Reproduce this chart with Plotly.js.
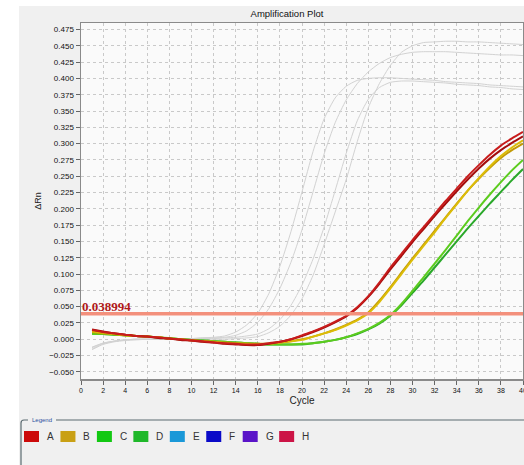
<!DOCTYPE html>
<html>
<head>
<meta charset="utf-8">
<script src="https://cdn.plot.ly/plotly-3.0.1.min.js"></script>
<style>html,body{margin:0;padding:0;background:#fff;}#chart{width:524px;height:465px;}</style>
</head>
<body>
<div id="chart"></div>
<script>
var cycles = [1,2,3,4,5,6,7,8,9,10,11,12,13,14,15,16,17,18,19,20,21,22,23,24,25,26,27,28,29,30,31,32,33,34,35,36,37,38,39,40];

// background (unselected) wells, grey
var grayA = [-0.016,-0.008,-0.004,-0.002,-0.001,0.000,0.000,0.000,0.001,0.001,0.002,0.003,0.005,0.011,0.022,0.040,0.070,0.112,0.165,0.226,0.288,0.338,0.370,0.388,0.397,0.400,0.401,0.401,0.400,0.399,0.398,0.397,0.395,0.394,0.393,0.392,0.390,0.389,0.388,0.387];
var grayB = [-0.012,-0.006,-0.003,-0.001,0.000,0.000,0.000,0.001,0.001,0.001,0.002,0.002,0.003,0.006,0.013,0.026,0.047,0.078,0.118,0.168,0.226,0.284,0.332,0.367,0.392,0.410,0.423,0.432,0.437,0.440,0.441,0.441,0.441,0.440,0.439,0.438,0.437,0.436,0.436,0.435];
var grayC = [-0.015,-0.007,-0.003,-0.001,0.000,0.000,0.000,0.000,0.000,0.000,0.000,0.000,0.000,0.001,0.002,0.004,0.010,0.020,0.037,0.062,0.098,0.145,0.195,0.245,0.303,0.355,0.392,0.420,0.440,0.450,0.455,0.456,0.457,0.457,0.456,0.456,0.455,0.454,0.453,0.452];
var grayD = [-0.013,-0.006,-0.003,-0.001,0.000,0.000,0.000,0.000,0.000,0.001,0.001,0.001,0.002,0.003,0.005,0.008,0.016,0.030,0.052,0.083,0.123,0.172,0.228,0.285,0.335,0.368,0.386,0.394,0.396,0.396,0.395,0.394,0.393,0.391,0.390,0.389,0.387,0.386,0.384,0.383];

// selected wells
var redA1 = [0.014,0.011,0.009,0.007,0.005,0.004,0.003,0.001,0.000,-0.002,-0.003,-0.005,-0.006,-0.007,-0.008,-0.008,-0.006,-0.004,0.000,0.006,0.012,0.019,0.027,0.036,0.049,0.066,0.087,0.110,0.131,0.152,0.172,0.192,0.212,0.231,0.250,0.267,0.283,0.297,0.308,0.318];
var redA2 = [0.015,0.012,0.009,0.007,0.005,0.004,0.002,0.001,-0.001,-0.002,-0.004,-0.005,-0.007,-0.008,-0.009,-0.009,-0.007,-0.004,0.000,0.005,0.011,0.018,0.026,0.035,0.048,0.065,0.085,0.107,0.128,0.149,0.169,0.189,0.208,0.227,0.245,0.262,0.277,0.290,0.301,0.311];
var yellowB1 = [0.012,0.010,0.008,0.006,0.005,0.004,0.003,0.001,0.000,-0.002,-0.003,-0.004,-0.006,-0.007,-0.007,-0.008,-0.007,-0.005,-0.003,-0.001,0.004,0.009,0.014,0.021,0.029,0.040,0.057,0.078,0.100,0.122,0.143,0.164,0.186,0.207,0.228,0.247,0.265,0.281,0.294,0.305];
var yellowB2 = [0.011,0.009,0.008,0.006,0.005,0.004,0.003,0.001,0.000,-0.001,-0.003,-0.004,-0.005,-0.006,-0.007,-0.007,-0.007,-0.005,-0.003,0.000,0.004,0.009,0.015,0.022,0.030,0.041,0.059,0.080,0.102,0.124,0.145,0.166,0.187,0.208,0.228,0.246,0.263,0.278,0.290,0.300];
var greenC = [0.008,0.008,0.007,0.006,0.005,0.004,0.003,0.002,0.000,-0.001,-0.002,-0.003,-0.004,-0.005,-0.006,-0.007,-0.008,-0.008,-0.008,-0.007,-0.006,-0.004,-0.001,0.003,0.009,0.016,0.025,0.037,0.054,0.074,0.095,0.116,0.137,0.159,0.181,0.202,0.222,0.241,0.259,0.275];
var greenD = [0.009,0.008,0.007,0.006,0.005,0.004,0.003,0.001,0.000,-0.001,-0.002,-0.003,-0.004,-0.005,-0.006,-0.007,-0.008,-0.008,-0.008,-0.008,-0.006,-0.004,-0.001,0.003,0.008,0.015,0.024,0.036,0.052,0.071,0.090,0.110,0.130,0.150,0.170,0.189,0.208,0.226,0.244,0.261];

var threshold = 0.038994;
var thresholdLabel = "0.038994";

var legendLabels = ["A","B","C","D","E","F","G","H"];
var legendColors = ["#cc0a0a","#c9a014","#12c812","#1fb82a","#1a98d8","#0a0ac8","#5a14c8","#cc1446"];

var xTickVals = [0,2,4,6,8,10,12,14,16,18,20,22,24,26,28,30,32,34,36,38,40];
var yTickVals = [-0.050,-0.025,0.000,0.025,0.050,0.075,0.100,0.125,0.150,0.175,0.200,0.225,0.250,0.275,0.300,0.325,0.350,0.375,0.400,0.425,0.450,0.475];

var grays = [grayA, grayB, grayC, grayD];
var colored = [
  {y: greenD, c: "#2aa82a"},
  {y: greenC, c: "#5ccc1e"},
  {y: yellowB2, c: "#c29a06"},
  {y: yellowB1, c: "#dcbc08"},
  {y: redA2, c: "#a30d0d"},
  {y: redA1, c: "#c81c1c"}
];

var traces = [];
grays.forEach(function(g){
  traces.push({x: cycles, y: g, type: "scatter", mode: "lines", line: {color: "#d2d2d2", width: 1, shape: "spline", smoothing: 0.6}, hoverinfo: "skip", showlegend: false});
});
colored.forEach(function(s){
  traces.push({x: cycles, y: s.y, type: "scatter", mode: "lines", line: {color: s.c, width: 2, shape: "spline", smoothing: 0.6}, showlegend: false});
});

// pixel helpers for decorative frame elements (margin area)
var L = 81, R = 523, T = 23, B = 379;
function PX(px){ return (px - L) / (R - L); }
function PY(py){ return (B - py) / (B - T); }

var shapes = [
  {type: "rect", xref: "paper", yref: "paper", x0: PX(0), x1: PX(19), y0: PY(465), y1: PY(0), fillcolor: "#ffffff", line: {width: 0}, layer: "below"},
  {type: "rect", xref: "paper", yref: "paper", x0: PX(0), x1: PX(524), y0: PY(6), y1: PY(0), fillcolor: "#ffffff", line: {width: 0}, layer: "below"},
  {type: "line", xref: "x", yref: "y", x0: 0, x1: 40, y0: threshold, y1: threshold, line: {color: "#f3907c", width: 3.5}, layer: "above"},
  {type: "path", xref: "paper", yref: "paper", path: "M " + PX(21) + "," + PY(465) + " L " + PX(21) + "," + PY(423) + " Q " + PX(21) + "," + PY(420) + " " + PX(24) + "," + PY(420) + " L " + PX(28) + "," + PY(420), line: {color: "#5b6b70", width: 1.2}},
  {type: "line", xref: "paper", yref: "paper", x0: PX(56), x1: PX(524), y0: PY(420), y1: PY(420), line: {color: "#5b6b70", width: 1.2}}
];

var annotations = [
  {xref: "x", yref: "y", x: 0, y: threshold, xanchor: "left", yanchor: "bottom", text: thresholdLabel, showarrow: false, font: {family: "Liberation Serif, serif", size: 13, color: "#b01818", weight: "bold"}, borderpad: 0, yshift: -1},
  {xref: "paper", yref: "paper", x: PX(30), y: PY(420), xanchor: "left", yanchor: "middle", text: "Legend", showarrow: false, font: {family: "Liberation Sans, Arial", size: 6, color: "#2a4f9e"}}
];

legendLabels.forEach(function(lab, i){
  var x0 = 24 + i * 36.45;
  shapes.push({type: "rect", xref: "paper", yref: "paper", x0: PX(x0), x1: PX(x0 + 15), y0: PY(442), y1: PY(431), fillcolor: legendColors[i], line: {width: 0}});
  annotations.push({xref: "paper", yref: "paper", x: PX(x0 + 21), y: PY(436.5), xanchor: "left", yanchor: "middle", text: lab, showarrow: false, font: {family: "Liberation Sans, Arial", size: 10, color: "#333"}});
});

var layout = {
  width: 524, height: 465,
  margin: {l: L, r: 524 - R, t: T, b: 465 - B, pad: 0},
  paper_bgcolor: "#f0f0f0",
  plot_bgcolor: "#fafafa",
  font: {family: "Liberation Sans, Arial, sans-serif", color: "#222"},
  title: {text: "Amplification Plot", font: {size: 9.5, color: "#111"}, x: PX(287), xanchor: "center", y: 1 - 13.5/465, yanchor: "middle", xref: "paper", yref: "container"},
  showlegend: false,
  xaxis: {
    range: [0, 40], tickvals: xTickVals, ticktext: xTickVals.map(String),
    showgrid: true, gridcolor: "#c9c9c9", griddash: "dot", gridwidth: 1,
    zeroline: false, showline: true, linecolor: "#8a8a8a", linewidth: 1.5, mirror: true,
    ticks: "outside", ticklen: 4, tickcolor: "#666", ticklabeloverflow: "allow",
    tickfont: {size: 7, color: "#111"},
    title: {text: "Cycle", font: {size: 10, color: "#222"}, standoff: 4},
    fixedrange: true
  },
  yaxis: {
    range: [-0.061, 0.485], tickvals: yTickVals, tickformat: ".3f",
    showgrid: true, gridcolor: "#c9c9c9", griddash: "dot", gridwidth: 1,
    zeroline: false, showline: true, linecolor: "#8a8a8a", linewidth: 1.5, mirror: true,
    ticks: "outside", ticklen: 4, tickcolor: "#666",
    tickfont: {size: 8, color: "#111"},
    title: {text: "ΔRn", font: {size: 9, color: "#222"}, standoff: 6},
    fixedrange: true
  },
  shapes: shapes,
  annotations: annotations
};

Plotly.newPlot("chart", traces, layout, {displayModeBar: false, staticPlot: true});
</script>
</body>
</html>
